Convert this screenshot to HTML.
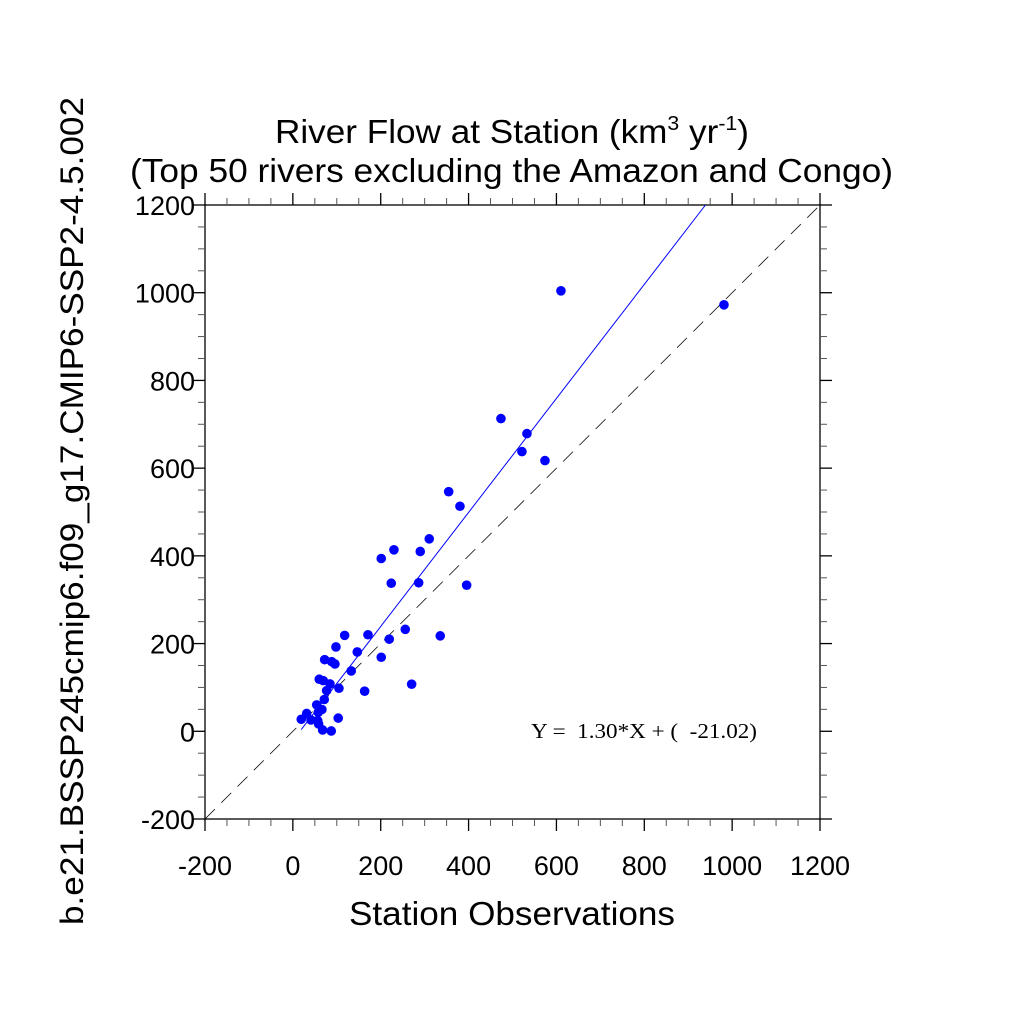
<!DOCTYPE html>
<html><head><meta charset="utf-8"><style>
html,body{margin:0;padding:0;background:#fff}
text{font-family:"Liberation Sans",sans-serif}
</style></head><body>
<svg id="chart" width="1024" height="1024" viewBox="0 0 1024 1024" xmlns="http://www.w3.org/2000/svg">
<text x="275" y="143" font-size="33" textLength="474" lengthAdjust="spacingAndGlyphs">River Flow at Station (km<tspan font-size="20" dy="-13">3</tspan><tspan dy="13"> yr</tspan><tspan font-size="20" dy="-13">-1</tspan><tspan dy="13">)</tspan></text>
<text x="130" y="182" font-size="33" textLength="763" lengthAdjust="spacingAndGlyphs">(Top 50 rivers excluding the Amazon and Congo)</text>
<text x="349" y="925" font-size="33" textLength="326" lengthAdjust="spacingAndGlyphs">Station Observations</text>
<text transform="translate(83,511) rotate(-90)" font-size="32" text-anchor="middle" textLength="828" lengthAdjust="spacingAndGlyphs">b.e21.BSSP245cmip6.f09_g17.CMIP6-SSP2-4.5.002</text>
<text x="531" y="738" font-size="21" textLength="226" lengthAdjust="spacingAndGlyphs" style="font-family:'Liberation Serif',serif" xml:space="preserve">Y =  1.30*X + (  -21.02)</text>
<g id="g"></g>
</svg>
<script>
const obsX = [354.7,380.4,310.5,230.1,290,201.2,224,286.4,395.6,117.9,171,255.9,335.5,219.4,98.1,146.6,201.2,72.4,88.3,95.8,132.9,60.1,69.2,84.5,76.9,104.9,163.4,270.4,71.5,54.2,66.2,31.4,57.8,19.1,41.2,56.5,58.7,103.3,67.8,87.4,610.3,981.4,473.7,532.9,521.5,573.9];
const modY = [546.3,513.1,438.8,413.8,410,394,337.6,338.6,333.1,218.7,220.1,232.4,217.6,210.1,192.3,180.9,168.8,163.3,158.8,153.5,137.6,118.7,115.5,108,92.7,98.2,91.4,107.4,72.5,60.2,49.7,40.6,43.1,27.4,25.8,24.2,16.6,30.1,3,0.7,1004.3,972.4,713,678.8,637.7,617.2];
const ticks = [-200,0,200,400,600,800,1000,1200];
const tickLabels = ["-200","0","200","400","600","800","1000","1200"];
const slope = 1.30, intercept = -21.02;

const NS="http://www.w3.org/2000/svg";
const g=document.getElementById('g');
const L=205,R=820,T=205,B=819,MIN=-200,MAX=1200;
const sx=v=>L+(v-MIN)/(MAX-MIN)*(R-L);
const sy=v=>B-(v-MIN)/(MAX-MIN)*(B-T);
function mk(tag,attrs){const e=document.createElementNS(NS,tag);for(const k in attrs)e.setAttribute(k,attrs[k]);g.appendChild(e);return e;}
const fr=mk('rect',{x:L,y:T,width:R-L,height:B-T,fill:'none',stroke:'#000','stroke-width':1.3});


for(let v=MIN;v<=MAX;v+=50){
  const maj=(v%200===0), len=maj?12:7, c=maj?'#000':'#555';
  const x=sx(v), y=sy(v);
  [[x,B,x,B+len],[x,T,x,T-len],[L,y,L-len,y],[R,y,R+len,y]].forEach(a=>{
    const t=mk('line',{x1:a[0],y1:a[1],x2:a[2],y2:a[3],stroke:c,'stroke-width':maj?1.3:1});
    
    
  });
}
ticks.forEach((v,i)=>{
  const tx=mk('text',{x:sx(v),y:B+56,'font-size':27,'text-anchor':'middle'});tx.textContent=tickLabels[i];
  
  
  const ty=mk('text',{x:L-10,y:sy(v)+10,'font-size':27,'text-anchor':'end'});ty.textContent=tickLabels[i];
  
  
});
const d=mk('line',{x1:sx(MIN),y1:sy(MIN),x2:sx(MAX),y2:sy(MAX),stroke:'#000','stroke-width':0.8,'stroke-dasharray':'14,9'});


const xmin=Math.min(...obsX);
const xend=Math.min(Math.max(...obsX),(MAX-intercept)/slope);
const rl=mk('line',{x1:sx(xmin),y1:sy(slope*xmin+intercept),x2:sx(xend),y2:sy(slope*xend+intercept),stroke:'#0000ff','stroke-width':1});


obsX.forEach((x,i)=>{
  const c=mk('circle',{cx:sx(x),cy:sy(modY[i]),r:4.8,fill:'#0000ff'});
  
  
});
</script>
</body></html>
